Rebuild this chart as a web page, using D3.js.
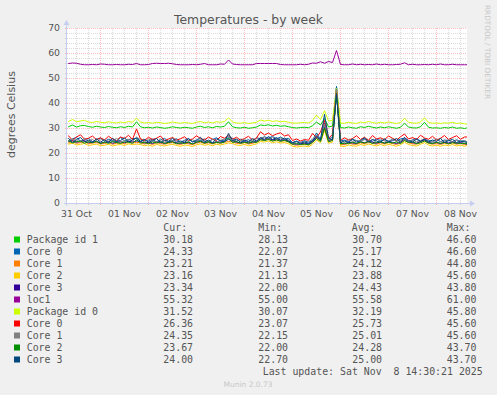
<!DOCTYPE html>
<html><head><meta charset="utf-8">
<script src="https://cdn.jsdelivr.net/npm/d3@7"></script>
<style>html,body{margin:0;padding:0;background:#f0f0f0;overflow:hidden}</style>
</head><body><svg id="c" width="497" height="395"></svg>
<script>
// ---- data ----
const title = "Temperatures - by week";
const yLabel = "degrees Celsius";
const yTicks = [0,10,20,30,40,50,60,70];
const dayLabels = ["31 Oct","01 Nov","02 Nov","03 Nov","04 Nov","05 Nov","06 Nov","07 Nov","08 Nov"];
// hours since 31 Oct 00:00
const hours = [6,8,10,12,14,16,18,20,22,24,26,28,30,32,34,36,38,40,42,44,46,48,50,52,54,56,58,60,62,64,66,68,70,72,74,76,78,80,82,84,86,88,90,92,94,96,98,100,102,104,106,108,110,112,114,116,118,120,122,124,126,128,130,132,134,136,138,140,142,144,146,148,150,152,154,156,158,160,162,164,166,168,170,172,174,176,178,180,182,184,186,188,190,192,194,196,198,200,202,204,206,208];

const seriesNames = ["Package id 1","Core 0","Core 1","Core 2","Core 3","loc1","Package id 0","Core 0","Core 1","Core 2","Core 3"];
const seriesColors = ["#00CC00","#0066B3","#FF8000","#FFCC00","#330099","#990099","#CCFF00","#FF0000","#808080","#008F00","#00487D"];
const curVals = ["30.18","24.33","23.21","23.16","23.34","55.32","31.52","26.36","24.35","23.67","24.00"];
const minVals = ["28.13","22.07","21.37","21.13","22.00","55.00","30.07","23.07","22.15","22.00","22.70"];
const avgVals = ["30.70","25.17","24.12","23.88","24.43","55.58","32.19","25.73","25.01","24.28","25.00"];
const maxVals = ["46.60","46.60","44.80","45.60","43.80","61.00","45.80","45.60","45.60","43.70","43.70"];

const pkg1 = [30.8,30.5,31.2,30.4,30.9,31.0,30.6,30.3,30.7,30.4, 30.2,30.6,30.3,30.1,30.5,30.2,30.7,30.4,32.5,30.5, 30.1,30.3,30.0,30.4,30.2,29.9,30.1,30.5,30.2,30.0, 30.3,30.1,29.9,30.4,30.7,30.2,30.5,30.1,30.6,30.4, 30.7,32.5,30.5,30.1,30.0,30.3,29.9,30.1,30.4,31.2, 31.0,31.3,30.8,31.1,30.7,30.9,30.5,30.2,30.0,30.2, 30.3,30.1,30.9,32.4,31.2,33.8,30.4,30.8,46.6,30.2, 30.0,30.4,30.1,29.9,30.5,30.2,30.7,30.3,30.0,30.4, 30.1,30.5,30.2,29.9,30.3,31.9,30.4,30.1,30.0,30.5, 32.3,30.3,30.0,30.1,29.9,30.2,30.0,30.4,29.9,30.1,29.8,30.2];
const core0a = [25.9,24.8,25.6,26.3,24.7,25.2,25.8,24.6,25.4,26.0, 24.7,25.5,25.0,24.5,26.2,24.9,25.3,25.8,25.8,24.6, 25.3,24.8,25.6,24.4,25.2,25.9,24.5,25.0,25.7,24.3, 25.1,25.8,24.4,25.3,24.9,25.6,24.6,25.4,26.1,24.8, 25.2,26.2,25.9,24.7,25.5,24.9,25.3,24.6,26.0,25.8, 26.5,25.9,26.7,25.6,26.4,25.5,25.9,24.1,24.8,24.2, 24.9,24.3,25.0,28.0,25.4,32.0,25.3,26.6,46.6,24.8, 25.2,24.6,25.4,25.0,24.5,25.7,25.1,24.7,25.6,24.9, 25.3,24.7,25.5,24.9,25.6,26.0,24.6,25.2,25.8,24.8, 25.4,25.0,24.7,25.5,24.6,25.2,25.0,24.6,25.3,24.7,24.9,24.3];
const core1a = [24.4,24.1,24.7,23.9,24.2,24.5,23.7,24.0,24.3,23.6, 23.8,24.2,23.5,23.9,24.1,23.7,24.4,24.0,24.3,24.1, 23.6,23.9,23.4,24.1,23.8,23.5,23.9,24.2,23.7,23.4, 23.9,23.7,23.3,24.0,24.3,23.8,24.1,23.6,24.2,23.9, 24.3,24.6,24.5,23.9,23.7,24.2,23.6,23.9,24.4,25.3, 25.1,25.5,24.8,25.2,24.7,24.9,24.4,23.4,23.1,23.3, 23.5,23.2,24.2,25.9,24.8,29.5,24.6,25.1,44.8,23.5, 23.3,23.9,23.6,23.4,24.1,23.7,24.3,23.9,23.5,24.1, 23.6,24.2,23.8,23.4,24.0,25.1,24.1,23.7,23.5,24.2, 24.9,23.9,23.5,23.8,23.4,23.9,23.6,24.1,23.5,23.8,23.4,23.2];
const core2a = [23.7,23.5,24.0,23.2,23.5,23.8,23.0,23.3,23.6,22.9, 23.1,23.5,22.8,23.2,23.4,23.0,23.7,23.3,23.6,23.4, 22.9,23.2,22.7,23.4,23.1,22.8,23.2,23.5,23.0,22.7, 23.2,23.0,22.6,23.3,23.6,23.1,23.4,22.9,23.5,23.2, 23.6,24.0,23.8,23.2,23.0,23.5,22.9,23.2,23.7,24.6, 24.4,24.8,24.1,24.5,24.0,24.2,23.7,22.7,22.4,22.6, 22.8,22.5,23.5,25.2,24.1,29.0,23.9,24.4,45.6,22.8, 22.6,23.2,22.9,22.7,23.4,23.0,23.6,23.2,22.8,23.4, 22.9,23.5,23.1,22.7,23.3,24.4,23.4,23.0,22.8,23.5, 24.2,23.2,22.8,23.1,22.7,23.2,22.9,23.4,22.8,23.1,22.7,23.2];
const core3a = [24.8,24.6,25.0,24.3,24.7,24.9,24.1,24.4,24.7,24.0, 24.2,24.6,23.9,24.3,24.5,24.1,24.8,24.4,24.8,24.5, 24.0,24.3,23.8,24.5,24.2,23.9,24.3,24.6,24.1,23.8, 24.3,24.1,23.7,24.4,24.7,24.2,24.5,24.0,24.6,24.3, 24.7,25.4,24.9,24.3,24.1,24.6,24.0,24.3,24.8,25.7, 25.5,25.9,25.2,25.6,25.1,25.3,24.8,23.8,23.5,23.7, 23.9,23.6,24.6,26.4,25.2,30.5,25.0,25.5,43.8,23.9, 23.7,24.3,24.0,23.8,24.5,24.1,24.7,24.3,23.9,24.5, 24.0,24.6,24.2,23.8,24.4,25.5,24.5,24.1,23.9,24.6, 25.3,24.3,23.9,24.2,23.8,24.3,24.0,24.5,23.9,24.2,23.8,23.3];
const loc1 = [55.9,55.8,56.0,55.9,55.5,55.3,55.3,55.4,55.3,55.6, 55.5,55.3,55.3,55.4,55.3,55.3,55.5,55.4,55.8,55.3, 55.3,55.4,55.8,55.9,55.8,55.8,55.9,55.7,55.4,55.3, 55.3,55.3,55.4,55.3,55.5,55.8,55.3,55.3,55.3,55.6, 55.5,57.2,55.6,55.4,55.3,55.3,55.3,55.3,55.8,55.8, 55.8,55.8,55.8,55.8,55.4,55.3,55.3,55.3,55.3,55.5, 55.3,55.5,56.0,55.9,56.5,55.9,56.6,56.2,61.0,55.4, 55.3,55.3,55.6,55.3,55.5,55.3,55.4,55.3,55.6,55.3, 55.5,55.3,55.3,55.4,55.5,56.1,55.3,55.5,55.3,55.3, 55.4,55.3,55.5,55.3,55.6,55.3,55.3,55.5,55.3,55.3,55.3,55.3];
const pkg0 = [33.0,32.6,33.4,32.5,32.8,33.1,32.4,32.2,32.6,32.3, 32.1,32.5,32.2,32.0,32.4,32.1,32.6,32.3,33.9,32.4, 32.0,32.2,31.9,32.3,32.1,31.8,32.0,32.4,32.1,31.9, 32.2,32.0,31.8,32.3,32.6,32.1,32.4,32.0,32.5,32.3, 32.6,34.1,32.4,32.0,31.9,32.2,31.8,32.0,32.3,33.2, 32.8,33.1,32.6,32.9,32.5,32.7,32.3,32.0,31.9,32.1, 32.2,32.0,33.0,35.2,33.4,36.9,32.8,33.1,45.8,32.0, 31.9,32.3,32.0,31.8,32.4,32.1,32.6,32.2,31.9,32.3, 32.0,32.4,32.1,31.8,32.2,33.9,32.3,32.0,31.9,32.4, 34.1,32.2,31.9,32.0,31.8,32.1,31.9,32.3,31.8,32.0,31.7,31.5];
const core0b = [25.8,26.9,25.1,26.4,27.3,25.5,25.9,26.8,25.3,26.1, 25.2,26.7,25.6,25.0,26.4,25.8,27.1,25.4,29.6,25.6, 25.0,26.3,25.4,25.9,26.8,24.9,25.6,26.2,25.1,25.7, 26.5,25.0,25.6,26.9,25.8,25.2,26.4,25.5,25.0,26.6, 25.9,27.2,25.5,26.3,25.1,25.8,26.7,25.2,26.0,28.5, 27.2,28.0,26.9,27.6,28.1,26.8,27.3,25.0,25.6,24.8, 25.4,25.1,27.8,26.2,28.4,33.0,25.9,27.4,45.6,25.0, 26.1,25.2,25.8,26.9,25.4,26.3,25.0,27.0,25.6,26.1, 25.3,26.8,25.9,25.1,26.5,27.6,25.6,26.2,25.4,27.1, 26.0,25.5,26.7,25.2,25.9,27.0,25.4,26.2,26.9,25.5,26.4,26.4];
const core1b = [25.3,24.6,25.7,24.9,24.5,25.9,24.8,25.4,24.3,25.6, 24.9,25.2,24.5,25.8,24.4,25.0,25.5,24.7,26.4,25.3, 24.4,25.5,24.8,24.5,25.6,24.3,25.2,24.7,25.4,24.2, 25.0,24.6,25.3,24.4,25.5,24.9,24.5,25.6,24.3,25.1, 25.6,26.8,24.6,25.2,24.8,25.5,24.4,25.1,25.7,25.9, 26.4,25.5,26.3,25.4,26.0,25.7,25.2,24.0,24.5,24.3, 24.0,24.6,25.5,27.2,24.9,31.5,25.2,26.3,45.6,24.6, 24.4,25.3,24.6,25.0,24.5,25.4,24.8,25.3,24.2,25.5, 24.8,24.3,25.6,24.6,25.1,25.8,24.5,25.3,24.4,25.0, 25.7,24.6,24.3,25.4,24.5,24.9,25.3,24.4,25.0,24.6,24.8,24.4];
const core2b = [24.2,24.9,24.0,24.6,24.8,23.9,24.5,24.1,24.7,23.8, 24.4,23.9,24.6,24.2,23.8,24.5,24.3,23.9,25.3,24.0, 24.3,23.7,24.4,24.0,24.6,23.8,24.2,24.5,23.7,24.1, 23.8,24.4,23.6,24.3,24.7,23.9,24.5,23.8,24.3,24.0, 24.4,26.0,24.2,24.6,23.9,24.3,24.0,24.5,24.2,25.3, 25.0,25.4,24.8,25.2,24.7,25.1,24.4,23.5,23.8,23.4, 23.6,23.3,24.2,25.8,24.6,30.0,24.5,25.0,43.7,23.6, 24.0,23.7,24.3,23.9,24.4,24.0,24.6,23.8,24.2,24.5, 23.9,24.3,24.0,24.4,23.8,25.0,24.2,24.5,23.8,24.1, 24.8,24.0,23.8,24.3,23.9,24.2,23.7,24.1,24.0,23.8,23.9,23.7];
const core3b = [24.6,25.8,24.3,25.4,26.2,24.5,25.1,24.2,25.7,24.4, 25.3,24.1,25.9,24.6,25.0,26.1,24.4,25.2,26.0,24.7, 25.4,24.3,24.9,25.8,24.2,25.1,24.6,25.9,24.4,24.8, 24.3,25.6,24.5,24.9,26.3,24.4,25.2,24.1,25.7,24.9, 24.5,27.8,24.9,25.6,24.3,25.0,24.6,25.8,24.7,26.2, 25.3,26.6,25.4,26.2,25.1,26.0,24.8,24.2,24.6,23.7, 24.5,23.8,24.9,26.7,25.3,35.5,26.0,25.2,43.7,24.0, 24.9,24.2,25.6,24.4,25.0,26.1,24.3,25.4,24.8,24.2, 25.7,24.5,24.9,25.8,24.3,26.2,25.0,24.4,25.5,24.6, 25.6,24.4,25.2,24.6,25.8,24.3,24.9,25.5,24.2,24.8,24.5,24.0];

const seriesValues = [pkg1, core0a, core1a, core2a, core3a, loc1, pkg0, core0b, core1b, core2b, core3b];

// ---- drawing ----
const svg = d3.select("#c");
const L = 67, R = 467, T = 28, B = 203;
const x = d3.scaleLinear().domain([7.25, 207.25]).range([L, R]);
const y = d3.scaleLinear().domain([0, 70]).range([B, T]);
const font = "DejaVu Sans, sans-serif";
const mono = "DejaVu Sans Mono, monospace";
const txt = "#555555";
const minorC = "rgba(140,140,140,0.32)";
const majorC = "rgba(255,95,95,0.42)";

svg.append("rect").attr("width", 497).attr("height", 395).attr("fill", "#f0f0f0");
svg.append("rect").attr("x", L).attr("y", T).attr("width", R - L).attr("height", B - T).attr("fill", "#ffffff");

const g = svg.append("g");
// minor grid
const minorH = d3.range(2, 70, 2).filter(v => v % 10 !== 0);
g.selectAll(".mh").data(minorH).enter().append("line")
  .attr("x1", L - 2).attr("x2", R).attr("y1", d => Math.round(y(d)) + 0.5).attr("y2", d => Math.round(y(d)) + 0.5)
  .attr("stroke", minorC).attr("stroke-dasharray", "1,1");
const minorV = d3.range(0, 210, 6).filter(h => h % 24 !== 0 && x(h) > L && x(h) < R);
g.selectAll(".mv").data(minorV).enter().append("line")
  .attr("y1", T).attr("y2", B + 2).attr("x1", d => Math.floor(x(d)) + 0.5).attr("x2", d => Math.floor(x(d)) + 0.5)
  .attr("stroke", minorC).attr("stroke-dasharray", "1,1");
// major grid
g.selectAll(".Mh").data(yTicks.filter(v => v > 0)).enter().append("line")
  .attr("x1", L - 2).attr("x2", R).attr("y1", d => Math.round(y(d)) + 0.5).attr("y2", d => Math.round(y(d)) + 0.5)
  .attr("stroke", majorC).attr("stroke-dasharray", "1,1");
const majorV = d3.range(24, 210, 24).filter(h => x(h) < R);
g.selectAll(".Mv").data(majorV).enter().append("line")
  .attr("y1", T).attr("y2", B + 3).attr("x1", d => Math.floor(x(d)) + 0.5).attr("x2", d => Math.floor(x(d)) + 0.5)
  .attr("stroke", majorC).attr("stroke-dasharray", "1,1");

// series
svg.append("clipPath").attr("id", "clip").append("rect").attr("x", L + 1).attr("y", T - 2).attr("width", R - L - 1).attr("height", B - T + 2);
const line = d3.line().x((d, i) => x(hours[i])).y(d => y(d));
const sg = svg.append("g").attr("clip-path", "url(#clip)");
seriesValues.forEach((vals, k) => {
  sg.append("path").datum(vals).attr("d", line).attr("fill", "none")
    .attr("stroke", seriesColors[k]).attr("stroke-width", 1);
});

// axes
const axc = "#C6CEF0";
svg.append("line").attr("x1", L - 0.5).attr("x2", L - 0.5).attr("y1", B + 3).attr("y2", T - 4).attr("stroke", axc);
svg.append("path").attr("d", `M${L - 3.5},${T - 3} L${L - 0.5},${T - 8} L${L + 2.5},${T - 3} Z`).attr("fill", axc);
svg.append("line").attr("x1", L - 3).attr("x2", R + 4).attr("y1", B + 0.5).attr("y2", B + 0.5).attr("stroke", axc);
svg.append("path").attr("d", `M${R + 3},${B - 2.5} L${R + 8},${B + 0.5} L${R + 3},${B + 3.5} Z`).attr("fill", axc);

// y tick labels
svg.selectAll(".yt").data(yTicks).enter().append("text")
  .attr("x", 60).attr("y", d => y(d) + 3.4).attr("text-anchor", "end")
  .attr("font-family", font).attr("font-size", 9.3).attr("fill", txt).text(d => d);
// x labels at noon of each day
svg.selectAll(".xt").data(dayLabels).enter().append("text")
  .attr("x", (d, i) => x(12 + 24 * i)).attr("y", 216.5).attr("text-anchor", "middle")
  .attr("font-family", font).attr("font-size", 9.3).attr("fill", txt).text(d => d);

// title
svg.append("text").attr("x", 248.5).attr("y", 24).attr("text-anchor", "middle")
  .attr("font-family", font).attr("font-size", 12.4).attr("fill", txt).text(title);
// y label
svg.append("text").attr("transform", "translate(15,114.5) rotate(-90)").attr("text-anchor", "middle")
  .attr("font-family", font).attr("font-size", 11).attr("fill", txt).text(yLabel);
// rrdtool watermark
svg.append("text").attr("transform", "translate(484.5,52) rotate(90)").attr("text-anchor", "middle")
  .attr("font-family", font).attr("font-size", 7.3).attr("fill", "#c8c8c8").text("RRDTOOL / TOBI OETIKER");

// legend
const lf = 9.9;
const header = [["Cur:", 163.3], ["Min:", 258.3], ["Avg:", 351.7], ["Max:", 446.7]];
svg.selectAll(".lh").data(header).enter().append("text")
  .attr("x", d => d[1]).attr("y", 231).attr("font-family", mono).attr("font-size", lf).attr("fill", txt)
  .text(d => d[0]);
const rows = svg.selectAll(".lr").data(seriesNames).enter().append("g")
  .attr("transform", (d, i) => `translate(0,${243 + 12 * i})`);
rows.append("rect").attr("x", 14).attr("y", -6.5).attr("width", 6).attr("height", 6)
  .attr("fill", (d, i) => seriesColors[i]);
rows.append("text").attr("x", 26.7).attr("y", 0).attr("font-family", mono).attr("font-size", lf).attr("fill", txt).text(d => d);
const cols = [[curVals, 163.3], [minVals, 258.3], [avgVals, 352.3], [maxVals, 446.7]];
cols.forEach(([arr, cx]) => {
  rows.append("text").attr("x", cx).attr("y", 0).attr("font-family", mono).attr("font-size", lf).attr("fill", txt)
    .text((d, i) => arr[i]);
});
svg.append("text").attr("x", 482.7).attr("y", 375).attr("text-anchor", "end").attr("font-family", mono)
  .attr("font-size", lf).attr("fill", txt).style("white-space", "pre").text("Last update: Sat Nov  8 14:30:21 2025");
svg.append("text").attr("x", 248).attr("y", 386.5).attr("text-anchor", "middle").attr("font-family", font)
  .attr("font-size", 7.5).attr("fill", "#c8c8c8").text("Munin 2.0.73");
</script></body></html>
